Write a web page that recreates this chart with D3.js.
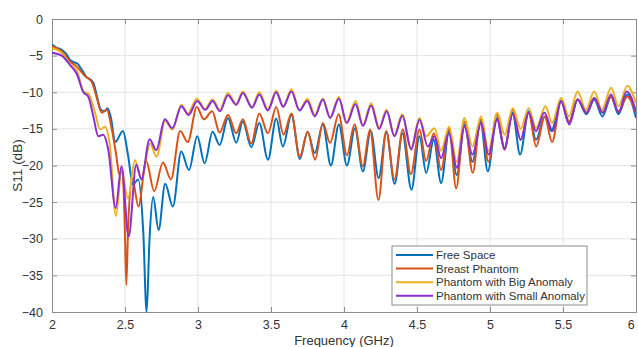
<!DOCTYPE html>
<html>
<head>
<meta charset="utf-8">
<script src="https://cdn.jsdelivr.net/npm/d3@7/dist/d3.min.js"></script>
<style>
  body { margin: 0; background: #fff; }
  svg { display: block; font-family: "Liberation Sans", Arial, sans-serif; }
</style>
</head>
<body>
<div id="chart"></div>
<script>
// [frequency GHz, S11 dB] (peaks / dips)
var freeSpace = [
  [2.0,-3.5],[2.03,-3.9],[2.066,-4.2],[2.095,-4.7],[2.124,-5.6],[2.15,-5.9],[2.175,-6.1],[2.2,-6.8],
  [2.235,-7.9],[2.265,-8.3],[2.285,-8.8],[2.306,-10.4],[2.335,-12.4],[2.36,-12.6],[2.38,-12.2],
  [2.405,-13.6],[2.432,-16.8],[2.486,-15.3],[2.52,-18.5],[2.555,-22.6],[2.59,-21.9],[2.625,-29],
  [2.648,-40],[2.668,-30],[2.693,-24.3],[2.73,-28.8],[2.775,-22.5],[2.828,-25.6],[2.885,-18.1],
  [2.938,-20.6],[2.995,-16.0],[3.045,-19.7],[3.10,-15.4],[3.148,-17.2],[3.205,-13.5],[3.262,-16.9],
  [3.307,-14.0],[3.365,-17.5],[3.42,-14.2],[3.479,-19.2],[3.536,-13.6],[3.581,-17.4],[3.64,-13.1],
  [3.698,-19.1],[3.75,-15.4],[3.80,-18.3],[3.855,-14.4],[3.91,-20.0],[3.965,-14.4],[4.02,-20.0],
  [4.075,-14.9],[4.129,-20.8],[4.183,-15.3],[4.237,-21.7],[4.29,-15.5],[4.347,-22.5],[4.40,-15.6],
  [4.462,-23.3],[4.517,-16.0],[4.563,-21.0],[4.615,-16.5],[4.665,-22.4],[4.72,-15.3],[4.772,-21.3],
  [4.825,-14.4],[4.88,-19.5],[4.935,-14.0],[4.985,-20.8],[5.046,-13.5],[5.10,-17.6],[5.155,-12.8],
  [5.206,-18.5],[5.265,-12.6],[5.315,-16.5],[5.375,-13.3],[5.42,-15.3],[5.487,-11.2],[5.54,-14.2],
  [5.6,-11.0],[5.66,-13.0],[5.714,-11.0],[5.77,-13.3],[5.829,-10.6],[5.88,-13.0],[5.94,-10.3],[6.0,-13.5]
];
var breastPhantom = [
  [2.0,-3.7],[2.066,-4.4],[2.124,-5.8],[2.17,-6.5],[2.226,-7.8],[2.27,-8.5],[2.31,-11.0],[2.34,-12.8],
  [2.375,-12.4],[2.41,-15.1],[2.44,-18.6],[2.462,-21.3],[2.482,-20.6],[2.498,-28],[2.509,-36.3],
  [2.522,-28],[2.55,-21.8],[2.592,-25.6],[2.645,-19.4],[2.70,-23.5],[2.76,-19.6],[2.815,-21.9],
  [2.878,-15.3],[2.93,-16.8],[2.992,-12.0],[3.04,-13.7],[3.097,-12.6],[3.148,-15.5],[3.205,-13.1],
  [3.262,-15.6],[3.307,-13.7],[3.365,-17.0],[3.42,-12.9],[3.479,-15.6],[3.536,-12.0],[3.586,-15.8],
  [3.64,-12.9],[3.697,-18.8],[3.752,-15.4],[3.802,-19.2],[3.855,-14.2],[3.905,-16.9],[3.963,-13.0],
  [4.02,-18.6],[4.072,-14.4],[4.129,-20.1],[4.178,-15.1],[4.236,-24.7],[4.289,-15.3],[4.346,-21.9],
  [4.403,-15.1],[4.458,-21.2],[4.517,-15.1],[4.562,-19.4],[4.615,-15.6],[4.665,-20.6],[4.72,-14.9],
  [4.768,-23.1],[4.825,-14.0],[4.882,-21.0],[4.935,-13.7],[4.99,-19.5],[5.046,-13.0],[5.10,-17.8],
  [5.155,-12.4],[5.21,-16.5],[5.265,-12.8],[5.316,-17.4],[5.375,-13.3],[5.425,-16.8],[5.487,-11.2],
  [5.543,-14.0],[5.6,-11.0],[5.66,-12.8],[5.714,-10.8],[5.77,-12.8],[5.829,-10.6],[5.88,-12.6],
  [5.94,-10.6],[6.0,-12.8]
];
var bigAnomaly = [
  [2.0,-4.0],[2.066,-4.6],[2.124,-6.2],[2.17,-7.0],[2.215,-9.9],[2.25,-10.2],[2.295,-12.8],[2.33,-15.1],
  [2.362,-14.7],[2.395,-17.0],[2.438,-26.9],[2.476,-20.7],[2.52,-24.5],[2.568,-19.3],[2.612,-21.8],
  [2.672,-17.0],[2.716,-18.8],[2.775,-13.9],[2.825,-15.1],[2.886,-11.7],[2.93,-12.9],[2.992,-10.9],
  [3.048,-12.3],[3.10,-11.0],[3.15,-12.4],[3.205,-10.1],[3.262,-11.6],[3.307,-9.9],[3.37,-12.0],
  [3.42,-10.0],[3.478,-12.3],[3.536,-9.8],[3.585,-11.9],[3.64,-9.6],[3.695,-12.4],[3.75,-10.9],
  [3.80,-13.1],[3.855,-10.9],[3.905,-13.4],[3.965,-10.6],[4.015,-14.2],[4.08,-11.2],[4.13,-14.5],
  [4.186,-11.5],[4.243,-14.9],[4.29,-12.4],[4.345,-15.9],[4.398,-13.0],[4.46,-17.6],[4.517,-13.5],
  [4.563,-16.0],[4.62,-14.9],[4.665,-18.0],[4.72,-14.7],[4.772,-19.5],[4.825,-13.5],[4.88,-17.4],
  [4.939,-13.3],[4.99,-18.0],[5.05,-12.8],[5.10,-15.8],[5.156,-12.2],[5.21,-15.0],[5.265,-12.2],
  [5.315,-14.9],[5.38,-11.9],[5.425,-14.2],[5.487,-10.8],[5.54,-13.3],[5.6,-9.9],[5.657,-12.4],
  [5.714,-9.9],[5.767,-12.4],[5.829,-9.4],[5.88,-11.9],[5.94,-9.1],[6.0,-11.5]
];
var smallAnomaly = [
  [2.0,-4.6],[2.066,-5.0],[2.124,-6.3],[2.17,-7.5],[2.215,-10.0],[2.249,-10.6],[2.283,-13.3],[2.317,-16.0],
  [2.35,-15.8],[2.385,-17.8],[2.436,-25.8],[2.476,-20.1],[2.525,-29.7],[2.577,-19.9],[2.612,-21.9],
  [2.669,-16.4],[2.714,-17.9],[2.773,-13.7],[2.824,-14.9],[2.886,-11.9],[2.935,-13.1],[2.995,-11.2],
  [3.05,-12.4],[3.10,-11.2],[3.15,-12.6],[3.205,-10.4],[3.262,-11.7],[3.307,-10.1],[3.37,-12.1],
  [3.42,-10.3],[3.478,-12.5],[3.536,-10.0],[3.583,-12.0],[3.64,-9.9],[3.695,-12.5],[3.748,-11.2],
  [3.80,-13.3],[3.855,-11.0],[3.905,-13.5],[3.965,-10.9],[4.02,-14.2],[4.078,-11.6],[4.13,-14.6],
  [4.186,-11.8],[4.24,-15.0],[4.293,-12.6],[4.345,-16.0],[4.40,-13.2],[4.46,-17.8],[4.517,-13.75],
  [4.574,-17.4],[4.62,-16.0],[4.665,-19.0],[4.718,-15.6],[4.773,-20.3],[4.825,-14.7],[4.88,-18.5],
  [4.939,-14.2],[4.99,-18.5],[5.05,-13.7],[5.098,-17.8],[5.155,-13.0],[5.21,-16.5],[5.265,-12.8],
  [5.315,-15.3],[5.372,-12.8],[5.43,-15.3],[5.487,-11.2],[5.543,-14.4],[5.6,-11.0],[5.662,-12.8],
  [5.714,-10.8],[5.772,-12.8],[5.829,-10.3],[5.88,-12.8],[5.936,-9.9],[6.0,-12.6]
];

var seriesNames = ['Free Space', 'Breast Phantom', 'Phantom with Big Anomaly', 'Phantom with Small Anomaly'];
var seriesColors = ['#0072bd', '#d95319', '#edb120', '#8a2fd2'];
var xTicks = [2, 2.5, 3, 3.5, 4, 4.5, 5, 5.5, 6];
var yTicks = [0, -5, -10, -15, -20, -25, -30, -35, -40];

var W = 638, H = 347;
var margin = {top: 19, right: 2, bottom: 35, left: 52};
var width = W - margin.left - margin.right;
var height = H - margin.top - margin.bottom;

var svg = d3.select('#chart').append('svg')
  .attr('width', W)
  .attr('height', H);

var g = svg.append('g')
  .attr('transform', 'translate(' + margin.left + ',' + margin.top + ')');

var x = d3.scaleLinear().domain([2, 6]).range([0, width]);
var y = d3.scaleLinear().domain([-40, 0]).range([height, 0]);

// grid
g.append('g').selectAll('line.gx')
  .data(xTicks.slice(1, -1)).enter().append('line')
  .attr('x1', function(d) { return x(d); }).attr('x2', function(d) { return x(d); })
  .attr('y1', 0).attr('y2', height)
  .attr('stroke', '#e3e3e3').attr('stroke-width', 1);
g.append('g').selectAll('line.gy')
  .data(yTicks.slice(1, -1)).enter().append('line')
  .attr('y1', function(d) { return y(d); }).attr('y2', function(d) { return y(d); })
  .attr('x1', 0).attr('x2', width)
  .attr('stroke', '#e3e3e3').attr('stroke-width', 1);

// axes, ticks inward
var xAxis = d3.axisBottom(x).tickValues(xTicks).tickSize(-5).tickPadding(8).tickFormat(d3.format('~g'));
var yAxis = d3.axisLeft(y).tickValues(yTicks).tickSize(-5).tickPadding(9).tickFormat(d3.format('~g'));

var gx = g.append('g').attr('transform', 'translate(0,' + height + ')').call(xAxis);
g.append('g').call(yAxis);
g.append('g').call(d3.axisTop(x).tickValues(xTicks).tickSize(-5).tickFormat(''));
g.append('g').attr('transform', 'translate(' + width + ',0)')
  .call(d3.axisRight(y).tickValues(yTicks).tickSize(-5).tickFormat(''));

g.selectAll('.domain').attr('stroke', '#8c8c8c');
g.selectAll('.tick line').attr('stroke', '#8c8c8c');
g.selectAll('.tick text').attr('fill', '#333').style('font-size', '12.5px');
// last x label sits at the window edge, keep it inside
gx.selectAll('.tick text').filter(function(d) { return d === 6; })
  .attr('text-anchor', 'end').attr('dx', '-0.15em');

// curves
g.append('clipPath').attr('id', 'clip')
  .append('rect').attr('width', width).attr('height', height + 1);

var line = d3.line()
  .x(function(d) { return x(d[0]); })
  .y(function(d) { return y(d[1]); })
  .curve(d3.curveMonotoneX);

var allSeries = [freeSpace, breastPhantom, bigAnomaly, smallAnomaly];
g.append('g').attr('clip-path', 'url(#clip)')
  .selectAll('path').data(allSeries).enter().append('path')
  .attr('d', line)
  .attr('fill', 'none')
  .attr('stroke', function(d, i) { return seriesColors[i]; })
  .attr('stroke-width', 2)
  .attr('stroke-linejoin', 'round');

// axis titles
svg.append('text')
  .attr('transform', 'translate(22,' + (margin.top + height / 2) + ') rotate(-90)')
  .attr('text-anchor', 'middle')
  .attr('fill', '#333')
  .style('font-size', '13.5px')
  .text('S11 (dB)');
svg.append('text')
  .attr('x', margin.left + width / 2)
  .attr('y', 345)
  .attr('text-anchor', 'middle')
  .attr('fill', '#333')
  .style('font-size', '13px')
  .text('Frequency (GHz)');

// legend
var lg = svg.append('g').attr('transform', 'translate(392,246)');
lg.append('rect')
  .attr('width', 195).attr('height', 59)
  .attr('fill', '#fff').attr('stroke', '#8c8c8c');
var item = lg.selectAll('g.item').data(seriesNames).enter().append('g')
  .attr('transform', function(d, i) { return 'translate(0,' + (9 + i * 13.6) + ')'; });
item.append('line')
  .attr('x1', 4).attr('x2', 41)
  .attr('stroke', function(d, i) { return seriesColors[i]; })
  .attr('stroke-width', 2);
item.append('text')
  .attr('x', 44).attr('dy', '0.35em')
  .attr('fill', '#333')
  .style('font-size', '11.5px')
  .text(function(d) { return d; });
</script>
</body>
</html>
